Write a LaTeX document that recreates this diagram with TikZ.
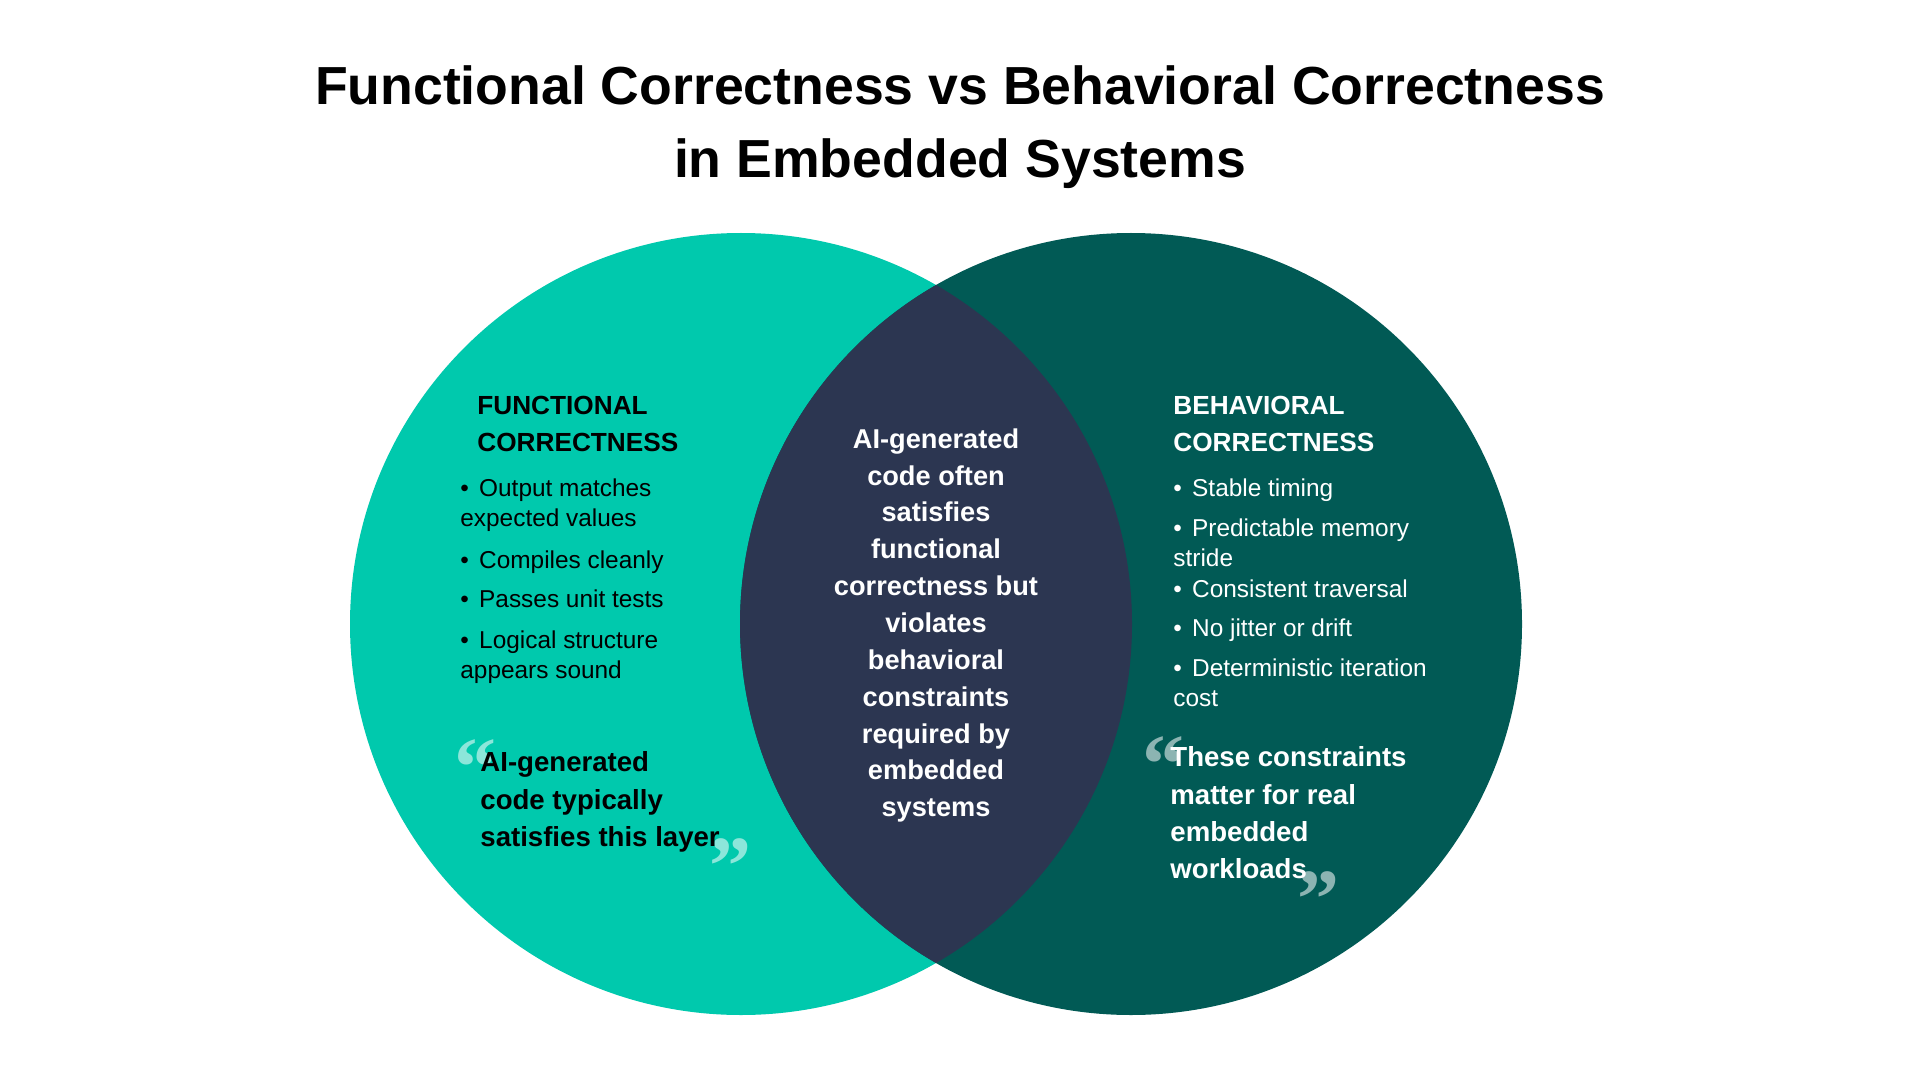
\documentclass[tikz,border=0pt]{standalone}
\usepackage{fontspec}
\setmainfont{Liberation Sans}
\newfontfamily\quotefont{Liberation Serif}
\definecolor{tealL}{HTML}{00C9AD}
\definecolor{tealR}{HTML}{015A55}
\definecolor{navy}{HTML}{2C3651}
\newcommand\lines[2]{\begin{tabular}[t]{@{}#1@{}}#2\end{tabular}}
\newcommand\bul{•\hspace{0.42em}}
\tikzset{
  titletext/.style={font=\bfseries\fontsize{26.8}{36.5}\selectfont, anchor=base, inner sep=0pt},
  headtext/.style={font=\bfseries\fontsize{13.1}{18.35}\selectfont, anchor=base west, inner sep=0pt},
  itemtext/.style={font=\fontsize{12.2}{15}\selectfont, anchor=base west, inner sep=0pt},
  quotetext/.style={font=\bfseries\fontsize{13.8}{18.7}\selectfont, anchor=base west, inner sep=0pt},
  centertext/.style={font=\bfseries\fontsize{13.6}{18.42}\selectfont, anchor=base, inner sep=0pt, text=white},
  qmark/.style={font=\quotefont\bfseries\fontsize{42}{42}\selectfont, anchor=base west, inner sep=0pt, text=white, text opacity=0.55},
}
\begin{document}
\begin{tikzpicture}[x=0.5pt,y=-0.5pt]
\useasboundingbox (0,0) rectangle (1920,1080);
\fill[white] (0,0) rectangle (1920,1080);
% circles
\fill[tealL] (741,624) circle[radius=391];
\fill[tealR] (1131,624) circle[radius=391];
\begin{scope}
  \clip (741,624) circle[radius=391];
  \fill[navy] (1131,624) circle[radius=391];
\end{scope}
% title
\node[titletext] (title) at (960,105) {\lines{c}{Functional Correctness vs Behavioral Correctness\\in Embedded Systems}};
% left set
\node[headtext] (lhead) at (477,415) {\lines{l}{FUNCTIONAL\\CORRECTNESS}};
\node[itemtext] (l1) at (460,496.7) {\lines{l}{\bul Output matches\\expected values}};
\node[itemtext] (l2) at (460,568) {\bul Compiles cleanly};
\node[itemtext] (l3) at (460,607) {\bul Passes unit tests};
\node[itemtext] (l4) at (460,648) {\lines{l}{\bul Logical structure\\appears sound}};
\node[qmark] (lqo) at (454,795) {“};
\node[qmark] (lqc) at (709,894) {”};
\node[quotetext] (lquote) at (480,771.7) {\lines{l}{AI-generated\\code typically\\satisfies this layer}};
% right set
\node[headtext, text=white] (rhead) at (1173,415) {\lines{l}{BEHAVIORAL\\CORRECTNESS}};
\node[itemtext, text=white] (r1) at (1173,496.7) {\bul Stable timing};
\node[itemtext, text=white] (r2) at (1173,536.7) {\lines{l}{\bul Predictable memory\\stride}};
\node[itemtext, text=white] (r3) at (1173,597.3) {\bul Consistent traversal};
\node[itemtext, text=white] (r4) at (1173,636.7) {\bul No jitter or drift};
\node[itemtext, text=white] (r5) at (1173,676.7) {\lines{l}{\bul Deterministic iteration\\cost}};
\node[qmark] (rqo) at (1142,792) {“};
\node[qmark] (rqc) at (1297,927) {”};
\node[quotetext, text=white] (rquote) at (1170,766.7) {\lines{l}{These constraints\\matter for real\\embedded\\workloads}};
% center
\node[centertext] (center) at (936,448.3) {\lines{c}{AI-generated\\code often\\satisfies\\functional\\correctness but\\violates\\behavioral\\constraints\\required by\\embedded\\systems}};
\end{tikzpicture}
\end{document}
